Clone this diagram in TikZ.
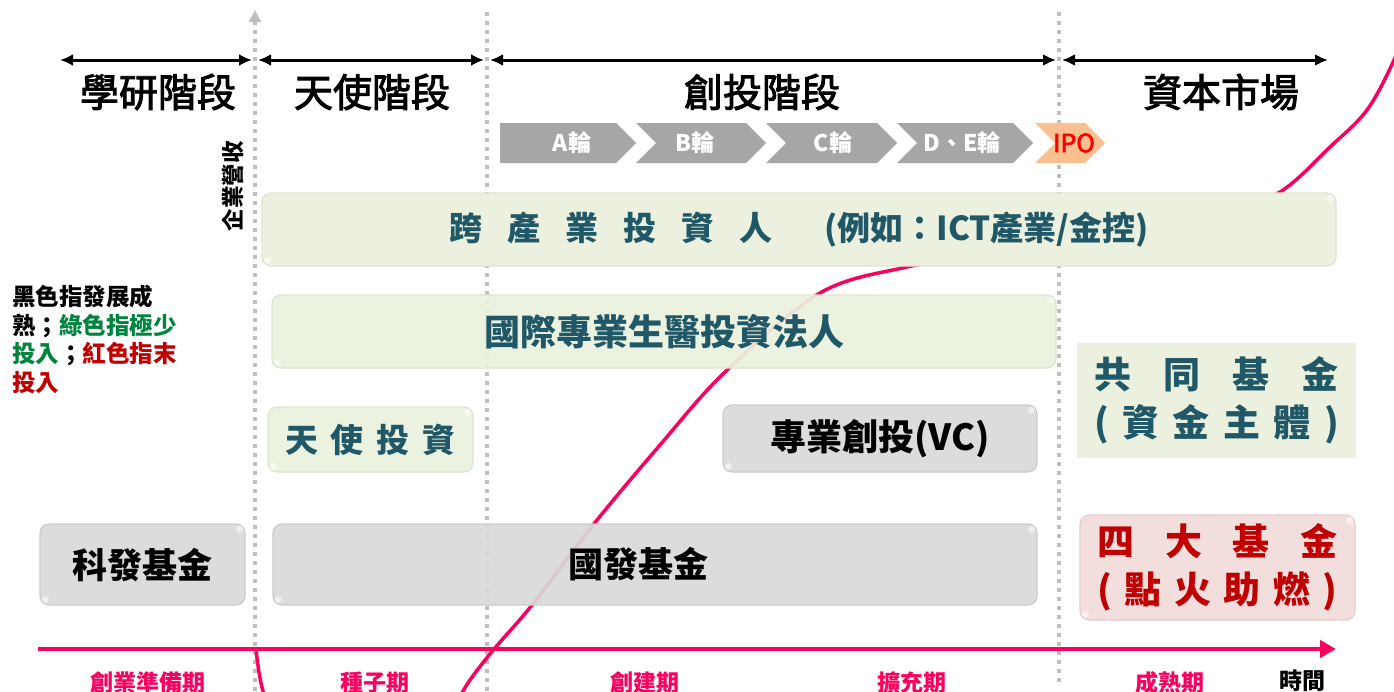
\documentclass[tikz,border=0pt]{standalone}
\usepackage{fontspec}
\setmainfont{Noto Sans CJK TC}
\newfontfamily\headfont[FakeBold=2.5]{Noto Sans CJK TC}
\usepackage{tikz}
\usetikzlibrary{arrows.meta, positioning, calc}
\definecolor{boxGreen}{RGB}{235,241,222}
\definecolor{boxGreenEdge}{RGB}{222,230,206}
\definecolor{boxGray}{RGB}{217,217,217}
\definecolor{boxGrayEdge}{RGB}{204,204,204}
\definecolor{boxPink}{RGB}{242,220,219}
\definecolor{boxPinkEdge}{RGB}{232,205,204}
\definecolor{tealText}{RGB}{33,88,104}
\definecolor{darkRed}{RGB}{192,0,0}
\definecolor{curvePink}{RGB}{250,0,95}
\definecolor{roundGray}{RGB}{166,166,166}
\definecolor{ipoOrange}{RGB}{250,192,144}
\definecolor{guideGray}{RGB}{191,191,191}
\definecolor{legendGreen}{RGB}{0,132,61}

\begin{document}
\begin{tikzpicture}[
    x=1pt, y=-1pt,
    guide/.style={
        draw=guideGray,
        line width=4pt,
        dash pattern=on 4pt off 5pt
    },
    phase/.style={
        {Latex[length=13pt,width=12pt]}-{Latex[length=13pt,width=12pt]},
        line width=3pt
    },
    heading/.style={
        font=\fontsize{39}{42}\headfont,
        text=black
    },
    round/.style={
        font=\fontsize{23}{25}\selectfont\bfseries,
        text=white
    },
    greenbox/.style={
        rectangle,
        rounded corners=9pt,
        fill=boxGreen,
        draw=boxGreenEdge,
        line width=1.2pt,
        fill opacity=0.93,
        text opacity=1,
        text=tealText,
        font=\fontsize{33}{36}\selectfont\bfseries
    },
    graybox/.style={
        greenbox,
        fill=boxGray,
        draw=boxGrayEdge,
        text=black,
        font=\fontsize{35}{38}\selectfont\bfseries
    },
    stage/.style={
        font=\fontsize{23}{25}\selectfont\bfseries,
        text=curvePink
    },
    gloss/.style={
        fill=white,
        fill opacity=0.55
    }
]
\useasboundingbox (0,0) rectangle (1394,691);

% Guide lines
\draw[guide, -{Triangle[length=12pt,width=12pt,fill=guideGray]}] (255,691) -- (255,10);
\draw[guide] (487,691) -- (487,12);
\draw[guide] (1059,682) -- (1059,10);

% Phases
\draw[phase] (60,60) -- (252,60);
\draw[phase] (258,60) -- (484,60);
\draw[phase] (490,60) -- (1056,60);
\draw[phase] (1062,60) -- (1328,60);
\node[heading] (academic) at (158,92) {學研階段};
\node[heading] (angel) at (372,92) {天使階段};
\node[heading] (venture) at (762,92) {創投階段};
\node[heading] (market) at (1221,92) {資本市場};

% Funding rounds
\fill[roundGray] (500,123) -- (616,123) -- (636,143) -- (616,163) -- (500,163) -- cycle;
\node[round] (roundA) at (572,143) {A輪};
\fill[roundGray] (636,123) -- (746,123) -- (766,143) -- (746,163) -- (636,163) -- (656,143) -- cycle;
\node[round] (roundB) at (695,143) {B輪};
\fill[roundGray] (766,123) -- (877,123) -- (897,143) -- (877,163) -- (766,163) -- (786,143) -- cycle;
\node[round] (roundC) at (833,143) {C輪};
\fill[roundGray] (897,123) -- (1013,123) -- (1033,143) -- (1013,163) -- (897,163) -- (917,143) -- cycle;
\node[round] (roundDE) at (962,143) {D、E輪};
\fill[ipoOrange] (1035,123) -- (1085,123) -- (1105,143) -- (1085,163) -- (1035,163) -- (1055,143) -- cycle;
\node[round, text=red, font=\fontsize{25}{26}\headfont] (ipo) at (1074,143) {IPO};

% Revenue label
\node[rotate=90, font=\fontsize{22.5}{24}\selectfont\bfseries] (revenue) at (233,186) {企業營收};

% Legend
\node[anchor=north west, align=left, font=\fontsize{23.5}{28.5}\selectfont\bfseries, inner sep=0pt] (legend) at (12,285)
    {黑色指發展成\\熟；\textcolor{legendGreen}{綠色指極少}\\\textcolor{legendGreen}{投入}；\textcolor{darkRed}{紅色指末}\\\textcolor{darkRed}{投入}};

% Growth curve
\begin{scope}
\clip (0,0) rectangle (1394,691);
\draw[curvePink, line width=3.5pt, line cap=round] plot[smooth, tension=0.55] coordinates {
    (256,649) (263,691) (285,745) (360,790) (430,740) (470,680) (495,648)
    (532,605) (593,525) (660,445) (725,372) (820,293) (907,267) (1010,250)
    (1110,238) (1210,222) (1280,192) (1330,147) (1367,110) (1394,60) (1410,15)};
\end{scope}

% Investors
\node[greenbox, fill opacity=1, minimum width=1074pt, minimum height=73pt] (crossIndustry) at (799,229.5)
    {跨\hspace{25pt}產\hspace{25pt}業\hspace{25pt}投\hspace{25pt}資\hspace{25pt}人\hspace{52pt}(例如：ICT產業/金控)};
\node[greenbox, minimum width=784pt, minimum height=73pt, font=\fontsize{36}{38}\selectfont\bfseries] (bioCorp) at (664,331.5)
    {國際專業生醫投資法人};
\node[greenbox, minimum width=205pt, minimum height=65pt] (angelInvest) at (370.5,439.5)
    {天\hspace{13pt}使\hspace{13pt}投\hspace{13pt}資};
\node[graybox, minimum width=314pt, minimum height=67pt, font=\fontsize{36}{38}\selectfont\bfseries] (vc) at (880,438.5) {專業創投(VC)};
\node[rectangle, fill=boxGreen, minimum width=279pt, minimum height=115pt, text=tealText,
    align=center, font=\fontsize{37}{48}\selectfont\bfseries] (mutualFund) at (1216.5,400.5)
    {\makebox[245pt][s]{共\hfill 同\hfill 基\hfill 金}\\\makebox[245pt][s]{(\hfill 資\hfill 金\hfill 主\hfill 體\hfill )}};

% Government funds
\node[graybox, minimum width=205pt, minimum height=81pt] (scienceFund) at (142.5,564.5) {科發基金};
\node[graybox, minimum width=764pt, minimum height=81pt] (devFund) at (655,564.5) {};
\node[font=\fontsize{35}{38}\selectfont\bfseries] (devFundText) at (638,564) {國發基金};
\node[greenbox, fill=boxPink, draw=boxPinkEdge, minimum width=275pt, minimum height=105pt, text=darkRed,
    align=center, font=\fontsize{37}{48}\selectfont\bfseries] (fourFunds) at (1217.5,567.5)
    {\makebox[240pt][s]{四\hfill 大\hfill 基\hfill 金}\\\makebox[240pt][s]{(\hfill 點\hfill 火\hfill 助\hfill 燃\hfill )}};

% Glossy corners
\foreach \b in {crossIndustry, bioCorp, angelInvest, vc, scienceFund, devFund, fourFunds} {
    \fill[gloss] ($(\b.south west)+(6,-6)$) circle (3.5);
    \fill[gloss] ($(\b.north east)+(-6,6)$) circle (3.5);
}

% Time axis
\coordinate (axisStart) at (38,649);
\coordinate (axisEnd) at (1336,649);
\draw[curvePink, line width=4pt, -{Triangle[length=16pt,width=17pt]}] (axisStart) -- (axisEnd);
\node[stage] (prep) at (148,683) {創業準備期};
\node[stage] (seed) at (375,683) {種子期};
\node[stage] (startup) at (645,683) {創建期};
\node[stage] (expand) at (912,683) {擴充期};
\node[stage] (mature) at (1170,683) {成熟期};
\node[stage, text=black] (time) at (1302,681) {時間};

\end{tikzpicture}
\end{document}
